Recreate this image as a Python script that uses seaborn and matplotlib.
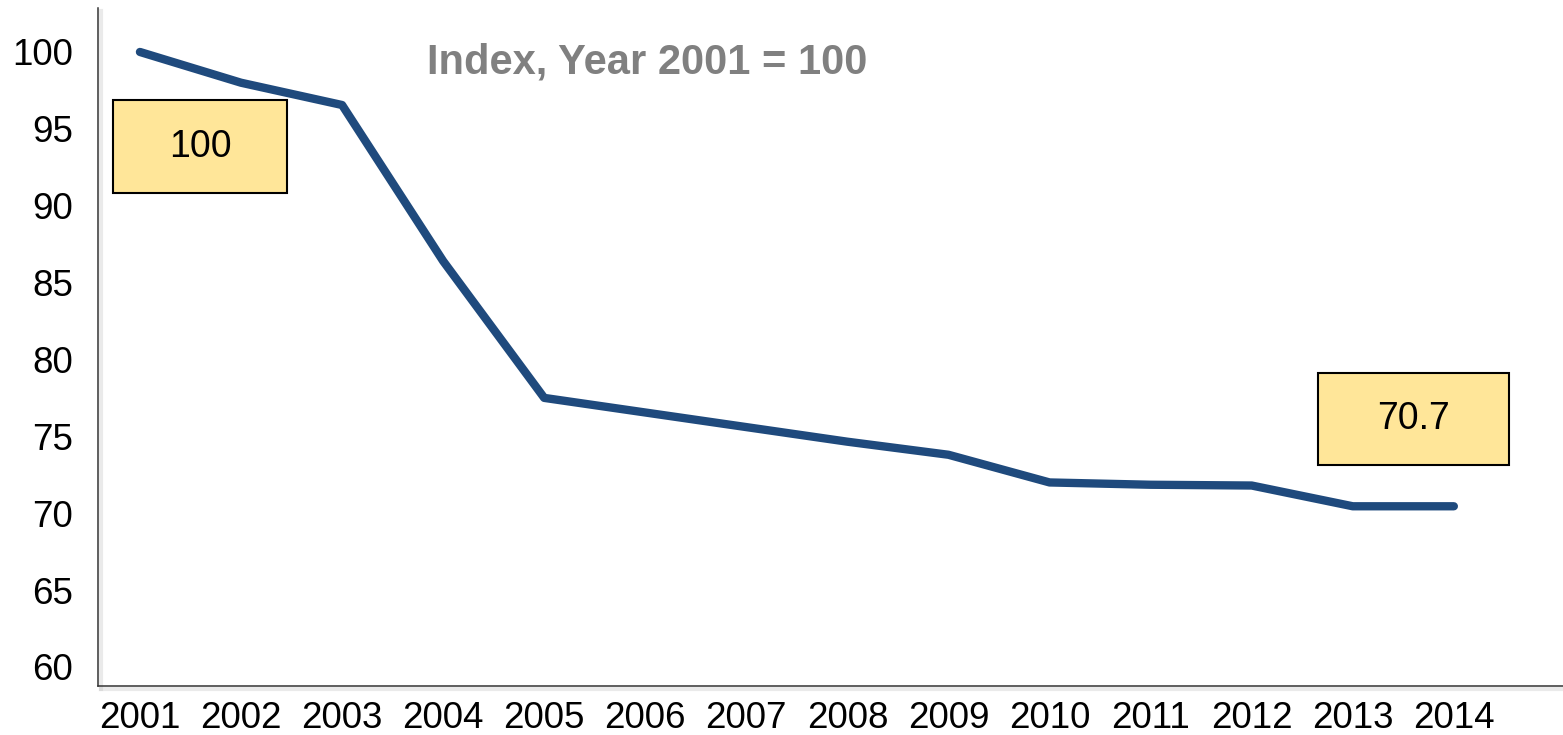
# Gráfico de índice (año 2001 = 100) con seaborn
import matplotlib
matplotlib.use("Agg")
import matplotlib.pyplot as plt
import matplotlib.patheffects as pe
from matplotlib.patches import Rectangle
from matplotlib.transforms import ScaledTranslation
import seaborn as sns
import pandas as pd

# Datos
anios = [2001, 2002, 2003, 2004, 2005, 2006, 2007, 2008, 2009, 2010, 2011, 2012, 2013, 2014]
indice = [100.0, 98.0, 96.55, 86.4, 77.5, 76.55, 75.6, 74.65, 73.8, 72.0, 71.85, 71.8, 70.45, 70.45]
ticks_y = [60, 65, 70, 75, 80, 85, 90, 95, 100]
titulo = "Index, Year 2001 = 100"
etiquetas_cajas = ["100", "70.7"]

datos = pd.DataFrame({"anio": anios, "indice": indice})

sns.set_style("white")
plt.rcParams["font.family"] = ["Liberation Sans", "DejaVu Sans"]

figura = plt.figure(figsize=(15.63, 7.35), dpi=100)
ax = figura.add_axes([98 / 1563, 49 / 735, 1 - 98 / 1563, 678 / 735])

sns.lineplot(data=datos, x="anio", y="indice", ax=ax, color="#1F4A7D",
             linewidth=6, solid_capstyle="round")

ax.set_xlim(2000.585, 2015.08)
ax.set_ylim(58.76, 102.86)
ax.set_xticks(anios)
ax.set_xticklabels([str(a) for a in anios])
ax.set_yticks(ticks_y)
ax.set_xlabel("")
ax.set_ylabel("")
ax.tick_params(axis="both", length=0, labelsize=26.5, colors="black")
ax.tick_params(axis="y", pad=18)
ax.tick_params(axis="x", pad=11)

# Ejes: solo izquierda y abajo, con una leve sombra
for lado in ["top", "right"]:
    ax.spines[lado].set_visible(False)
for lado in ["left", "bottom"]:
    ax.spines[lado].set_color("#333333")
    ax.spines[lado].set_linewidth(1.1)
    ax.spines[lado].set_path_effects([
        pe.SimpleLineShadow(offset=(2, -2), shadow_color="#bbbbbb", alpha=0.3, linewidth=3),
        pe.Normal()])

# Título dentro del gráfico
ax.text(0.3747, 0.904, titulo, transform=ax.transAxes, ha="center", va="baseline",
        fontsize=30, fontweight="bold", color="#808080")


def caja_etiqueta(x, y, texto, dx, dy, ancho, alto):
    # Caja amarilla anclada a un punto de datos, desplazada en pulgadas
    trans = figura.dpi_scale_trans + ScaledTranslation(x, y, ax.transData)
    ax.add_patch(Rectangle((dx - ancho / 2, dy - alto / 2), ancho, alto, transform=trans,
                           facecolor="#FFE699", edgecolor="black", linewidth=1.5,
                           clip_on=False, zorder=5))
    ax.text(dx, dy, texto, transform=trans, ha="center", va="center",
            fontsize=27, color="black", zorder=6)


caja_etiqueta(anios[0], indice[0], etiquetas_cajas[0], 0.60, -0.95, 1.74, 0.93)
caja_etiqueta(anios[-1], indice[-1], etiquetas_cajas[1], -0.40, 0.87, 1.91, 0.92)

figura.savefig("out.png", dpi=100)
plt.close(figura)
